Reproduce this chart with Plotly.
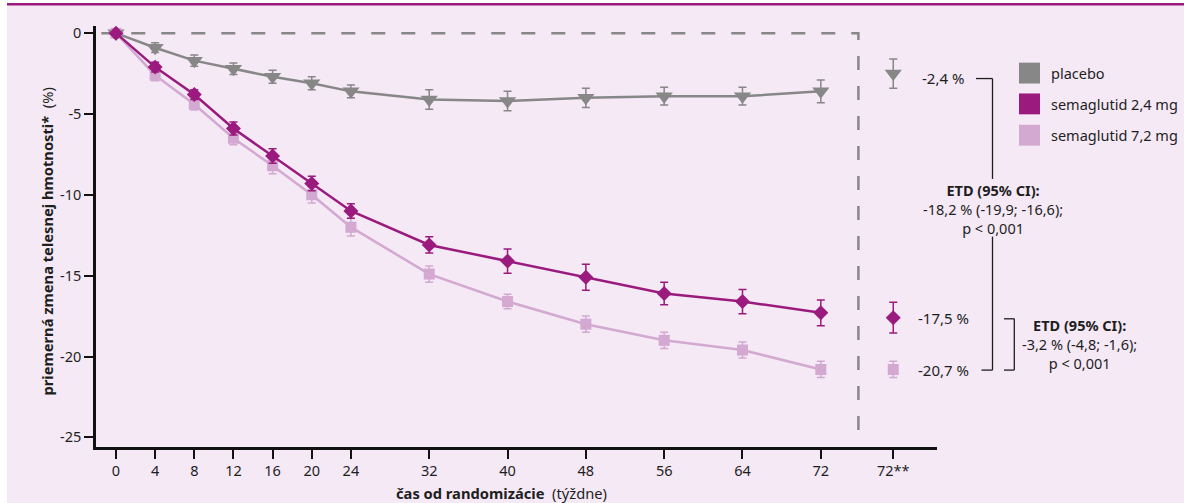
import plotly.graph_objects as go

# ---------------- data ----------------
weeks = [0, 4, 8, 12, 16, 20, 24, 32, 40, 48, 56, 64, 72]
placebo = [0, -0.9, -1.7, -2.2, -2.7, -3.1, -3.6, -4.1, -4.2, -4.0, -3.9, -3.9, -3.6]
placebo_err = [0, 0.3, 0.35, 0.35, 0.4, 0.4, 0.4, 0.6, 0.6, 0.6, 0.55, 0.55, 0.7]
sema24 = [0, -2.1, -3.8, -5.9, -7.6, -9.3, -11.0, -13.1, -14.1, -15.1, -16.1, -16.6, -17.3]
sema24_err = [0, 0.3, 0.3, 0.4, 0.45, 0.45, 0.45, 0.5, 0.75, 0.8, 0.7, 0.75, 0.8]
sema72 = [0, -2.6, -4.4, -6.5, -8.2, -10.0, -12.0, -14.9, -16.6, -18.0, -19.0, -19.6, -20.8]
sema72_err = [0, 0.35, 0.35, 0.4, 0.5, 0.5, 0.55, 0.5, 0.45, 0.5, 0.5, 0.5, 0.5]

endpoint_label = "72**"
endpoint_pos = 79.4
endpoint_vals = [-2.5, -17.6, -20.8]
endpoint_errs = [0.9, 0.95, 0.5]
endpoint_texts = ["-2,4 %", "-17,5 %", "-20,7 %"]

series_names = ["placebo", "semaglutid 2,4 mg", "semaglutid 7,2 mg"]
tick_weeks = [0, 4, 8, 12, 16, 20, 24, 32, 40, 48, 56, 64, 72]
y_ticks = [0, -5, -10, -15, -20, -25]
y_ticktext = ["0", "-5", "-10", "-15", "-20", "-25"]

etd1 = ["<b>ETD (95% CI):</b>", "-18,2 % (-19,9; -16,6);", "p < 0,001"]
etd2 = ["<b>ETD (95% CI):</b>", "-3,2 % (-4,8; -1,6);", "p < 0,001"]

# ---------------- style ----------------
W, H = 1184, 503
GRAY = "#878787"
MAG = "#9A1A7E"
LIL = "#D3A8D1"
BG = "#F4E9F5"
TXT = "#1E1E1E"
FONT = "Noto Sans"
colors = [GRAY, MAG, LIL]
symbols = ["triangle-down", "diamond", "square"]
sizes = [15, 11.5, 11]

x_dom = [96 / W, 937.3 / W]
y_dom = [1 - 446.7 / H, 1 - 22.7 / H]


def px(x):
    return x / W


def py(y):
    return 1 - y / H


fig = go.Figure()

data_sets = [(placebo, placebo_err), (sema24, sema24_err), (sema72, sema72_err)]
for idx in [0, 2, 1]:
    vals, errs = data_sets[idx]
    fig.add_trace(go.Scatter(
        x=weeks, y=vals, mode="lines+markers",
        line=dict(color=colors[idx], width=2.5),
        marker=dict(symbol=symbols[idx], size=sizes[idx], color=colors[idx]),
        error_y=dict(type="data", array=errs, color=colors[idx], thickness=1.5, width=4),
        name=series_names[idx], showlegend=False, hoverinfo="skip",
    ))

for i in range(3):
    fig.add_trace(go.Scatter(
        x=[endpoint_pos], y=[endpoint_vals[i]], mode="markers",
        marker=dict(symbol=symbols[i], size=sizes[i], color=colors[i]),
        error_y=dict(type="data", array=[endpoint_errs[i]], color=colors[i], thickness=1.5, width=4),
        showlegend=False, name=series_names[i], hoverinfo="skip",
    ))

shapes = []
# background panel + top line
shapes.append(dict(type="rect", xref="paper", yref="paper", x0=px(7), x1=1, y0=0, y1=py(2),
                   fillcolor=BG, line=dict(width=0), layer="below"))
shapes.append(dict(type="rect", xref="paper", yref="paper", x0=px(7), x1=1, y0=py(2.5), y1=1,
                   fillcolor=MAG, line=dict(width=0), layer="below"))
# dashed frame
cut = 75.84
shapes.append(dict(type="path", xref="x", yref="y",
                   path=f"M -1.5,0 L {cut},0 L {cut},-25.3",
                   line=dict(color=GRAY, width=2.5, dash="14px,16px"), layer="below"))


def seg(x0, y0, x1, y1):
    shapes.append(dict(type="line", xref="paper", yref="paper",
                       x0=px(x0), y0=py(y0), x1=px(x1), y1=py(y1),
                       line=dict(color=TXT, width=1.3)))


seg(976, 76, 992.5, 76)
seg(992.5, 76, 992.5, 177)
seg(992.5, 235, 992.5, 369.3)
seg(981.5, 369.3, 992.5, 369.3)
seg(1004, 317.7, 1014.3, 317.7)
seg(1014.3, 317.7, 1014.3, 369.3)
seg(1004, 369.3, 1014.3, 369.3)

# legend boxes
leg_y = [70.5, 101.5, 133]
for i in range(3):
    shapes.append(dict(type="rect", xref="paper", yref="paper",
                       x0=px(1019), x1=px(1040), y0=py(leg_y[i] + 10.5), y1=py(leg_y[i] - 10.5),
                       fillcolor=colors[i], line=dict(width=0)))

annotations = []
for i in range(3):
    annotations.append(dict(xref="paper", yref="paper", x=px(1049), y=py(leg_y[i]),
                            text=series_names[i], showarrow=False, xanchor="left", yanchor="middle",
                            font=dict(size=14.5, color=TXT, family=FONT)))

end_text_y = [75, 316.7, 369]
for i in range(3):
    annotations.append(dict(xref="paper", yref="paper", x=px(943), y=py(end_text_y[i]),
                            text=endpoint_texts[i], showarrow=False, xanchor="center", yanchor="middle",
                            font=dict(size=15, color=TXT, family=FONT)))

annotations.append(dict(xref="paper", yref="paper", x=px(992.5), y=py(207),
                        text="<br>".join(etd1), showarrow=False, xanchor="center", yanchor="middle",
                        align="center", font=dict(size=14.5, color=TXT, family=FONT)))
annotations.append(dict(xref="paper", yref="paper", x=px(1079), y=py(343),
                        text="<br>".join(etd2), showarrow=False, xanchor="center", yanchor="middle",
                        align="center", font=dict(size=14.5, color=TXT, family=FONT)))

# axis titles
annotations.append(dict(xref="paper", yref="paper", x=px(501), y=py(493),
                        text="<b>čas od randomizácie</b>  (týždne)", showarrow=False,
                        xanchor="center", yanchor="middle",
                        font=dict(size=14.7, color=TXT, family=FONT)))
annotations.append(dict(xref="paper", yref="paper", x=px(47), y=py(240),
                        text="<b>priemerná zmena telesnej hmotnosti*</b>  (%)", showarrow=False,
                        textangle=-90, xanchor="center", yanchor="middle",
                        font=dict(size=14.7, color=TXT, family=FONT)))

fig.update_layout(
    width=W, height=H,
    margin=dict(l=0, r=0, t=0, b=0),
    paper_bgcolor="white", plot_bgcolor="rgba(0,0,0,0)",
    font=dict(family=FONT, size=14, color=TXT),
    shapes=shapes, annotations=annotations,
    hovermode=False,
    xaxis=dict(domain=x_dom, range=[-2.04, 83.9], showgrid=False, zeroline=False,
               showline=True, linecolor="#111", linewidth=2.5, fixedrange=True,
               tickmode="array", tickvals=tick_weeks + [endpoint_pos],
               ticktext=[str(w) for w in tick_weeks] + [endpoint_label],
               ticks="outside", ticklen=9, tickwidth=1.5, tickcolor="#111",
               tickfont=dict(size=14.5, color=TXT, family=FONT)),
    yaxis=dict(domain=y_dom, range=[-25.6, 0.47], showgrid=False, zeroline=False,
               showline=True, linecolor="#111", linewidth=2.5, fixedrange=True,
               tickmode="array", tickvals=y_ticks, ticktext=y_ticktext,
               ticks="outside", ticklen=9, tickwidth=1.5, tickcolor="#111",
               tickfont=dict(size=14.5, color=TXT, family=FONT)),
)

fig.write_html("out.html", config={"displayModeBar": False},
               post_script="document.body.style.margin='0';document.body.style.overflow='hidden';")
